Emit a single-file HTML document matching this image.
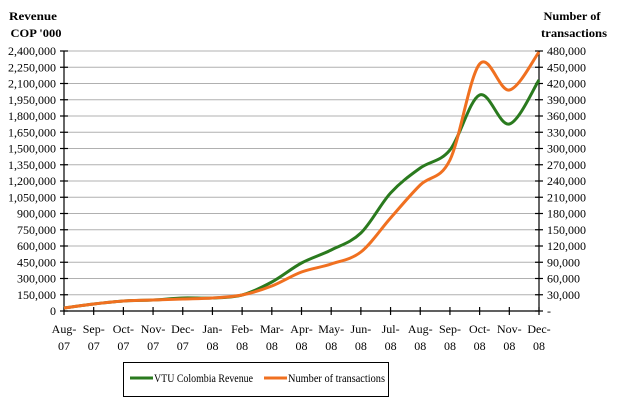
<!DOCTYPE html>
<html><head><meta charset="utf-8"><style>
html,body{margin:0;padding:0;background:#fff;}
svg{display:block;}
text{font-family:"Liberation Serif","Times New Roman","DejaVu Serif",serif;font-size:12px;}
</style></head><body>
<svg id="s" width="617" height="406" viewBox="0 0 617 406" font-family="Liberation Serif, serif" font-size="12">
<g font-weight="bold" text-anchor="middle">
<text x="33" y="20" textLength="48" lengthAdjust="spacingAndGlyphs">Revenue</text><text x="36" y="37" textLength="51" lengthAdjust="spacingAndGlyphs">COP '000</text>
<text x="572" y="20" textLength="57" lengthAdjust="spacingAndGlyphs">Number of</text><text x="574" y="37" textLength="66" lengthAdjust="spacingAndGlyphs">transactions</text>
</g>
<g id="grid" stroke="#b0b0b0" stroke-width="1"></g>
<g id="ax" stroke="#000" stroke-width="1.2" fill="none"></g>
<g id="lbl" fill="#000"></g>
<path id="g" fill="none" stroke="#2a7a1e" stroke-width="3"/>
<path id="o" fill="none" stroke="#f07020" stroke-width="3"/>
<rect x="123.5" y="362.5" width="265" height="34" fill="none" stroke="#000"/>
<line x1="130" y1="378" x2="153" y2="378" stroke="#2a7a1e" stroke-width="3"/>
<text x="154" y="382" textLength="99" lengthAdjust="spacingAndGlyphs">VTU Colombia Revenue</text>
<line x1="264" y1="378" x2="287" y2="378" stroke="#f07020" stroke-width="3"/>
<text x="288" y="382" textLength="97" lengthAdjust="spacingAndGlyphs">Number of transactions</text>
</svg>
<script>
var NS="http://www.w3.org/2000/svg";
function el(p,t,a,txt){var e=document.createElementNS(NS,t);for(var k in a)e.setAttribute(k,a[k]);if(txt!=null)e.textContent=txt;document.getElementById(p).appendChild(e);}
var L=64,R=539,T=51,B=311;
function fmt(n){return n.toString().replace(/\B(?=(\d{3})+(?!\d))/g,",");}
for(var i=0;i<=16;i++){var y=B-i*(B-T)/16;
 if(i>0)el("grid","line",{x1:L,x2:R,y1:y,y2:y});
 el("ax","line",{x1:L-4,x2:L+4,y1:y,y2:y});el("ax","line",{x1:R-4,x2:R+4,y1:y,y2:y});
 el("lbl","text",{x:L-8,y:y+4,"text-anchor":"end"},i==0?"0":fmt(i*150000));
 el("lbl","text",{x:R+8,y:y+4},i==0?"-":fmt(i*30000));}
el("ax","line",{x1:L,x2:L,y1:T,y2:B});el("ax","line",{x1:R,x2:R,y1:T,y2:B});el("ax","line",{x1:L,x2:R,y1:B,y2:B});
var m=["Aug-","Sep-","Oct-","Nov-","Dec-","Jan-","Feb-","Mar-","Apr-","May-","Jun-","Jul-","Aug-","Sep-","Oct-","Nov-","Dec-"];
var yr=["07","07","07","07","07","08","08","08","08","08","08","08","08","08","08","08","08"];
var xs=[];for(var i=0;i<=16;i++){var x=L+i*(R-L)/16;xs.push(x);
 el("ax","line",{x1:x,x2:x,y1:B-4,y2:B+4});
 el("lbl","text",{x:x,y:B+22,"text-anchor":"middle"},m[i]);
 el("lbl","text",{x:x,y:B+39,"text-anchor":"middle"},yr[i]);}
var G=[308,304,301,300,298,298,295,282,263,250,233,193,168,150,95,124,80];
var O=[308,304,301,300,299,298,295,286,272,264,252,218,185,160,64,90,52];
function path(Y){var p=[];for(var i=0;i<Y.length;i++)p.push([xs[i],Y[i]]);
 var d="M"+p[0][0]+","+p[0][1];
 for(var i=0;i<p.length-1;i++){var p0=p[Math.max(0,i-1)],p1=p[i],p2=p[i+1],p3=p[Math.min(p.length-1,i+2)];
  var c1x=p1[0]+(p2[0]-p0[0])/6,c1y=p1[1]+(p2[1]-p0[1])/6,c2x=p2[0]-(p3[0]-p1[0])/6,c2y=p2[1]-(p3[1]-p1[1])/6;
  d+=" C"+c1x+","+c1y+" "+c2x+","+c2y+" "+p2[0]+","+p2[1];}
 return d;}
document.getElementById("g").setAttribute("d",path(G));
document.getElementById("o").setAttribute("d",path(O));
</script>
</body></html>
